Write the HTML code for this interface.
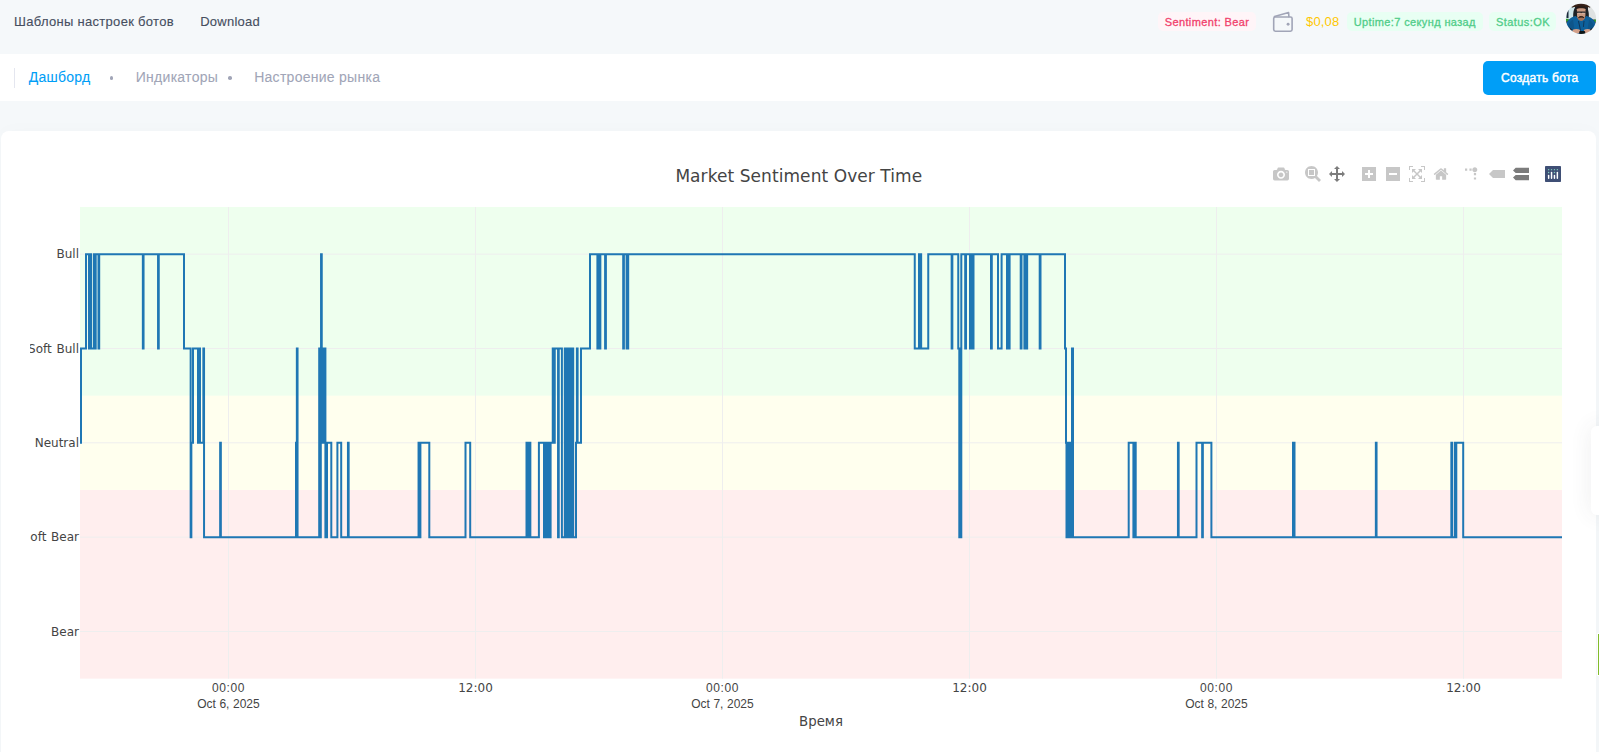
<!DOCTYPE html><html lang="ru"><head><meta charset="utf-8"><title>Market Sentiment</title><style>
html,body{margin:0;padding:0}
body{width:1599px;height:752px;overflow:hidden;position:relative;background:#f5f8fa;
 font-family:"Liberation Sans", sans-serif;-webkit-font-smoothing:antialiased}
.abs{position:absolute;white-space:nowrap;line-height:1}
#nav{position:absolute;left:0;top:54px;width:1599px;height:47px;background:#fff}
#card{position:absolute;left:1px;top:131px;width:1595px;height:640px;background:#fff;border-radius:8px;
 box-shadow:0 0 20px 0 rgba(76,87,125,.02)}
.badge{position:absolute;top:12px;height:19px;border-radius:5px}
.top{font-size:13px;color:#464e5f;top:15px;-webkit-text-stroke:0.12px #464e5f}
.nv{font-size:14px;top:70px;-webkit-text-stroke:0.08px currentColor}
.dot{position:absolute;width:3.6px;height:3.6px;border-radius:50%;background:#a1a5b7;top:76px}
#btn{position:absolute;left:1483px;top:61px;width:113px;height:34px;border-radius:5px;background:#009ef7}
#tab{position:absolute;left:1591px;top:426px;width:20px;height:89px;background:#fff;border-radius:6px 0 0 6px;
 box-shadow:0 0 22px 0 rgba(70,70,80,.09)}
#grn{position:absolute;left:1597px;top:633px;width:4px;height:43px;background:#82bc2b;border:1px solid #fff;box-sizing:border-box}
</style></head><body>
<span class="abs top" id="t1" style="left:14px;letter-spacing:0.3px">Шаблоны настроек ботов</span>
<span class="abs top" id="t2" style="left:200.2px;letter-spacing:0.25px">Download</span>
<div class="badge" style="left:1158px;width:98px;background:#fff5f8"></div>
<span class="abs" id="b1" style="left:1164.7px;top:16.7px;-webkit-text-stroke:0.3px #f1416c;font-size:11px;letter-spacing:0.38px;color:#f1416c;font-weight:500">Sentiment: Bear</span>
<svg style="position:absolute;left:1268px;top:8px" width="30" height="28" viewBox="1268 8 30 28"><g fill="none" stroke="#a1a5b7" stroke-width="1.6" stroke-linejoin="round" stroke-linecap="round"><rect x="1273.7" y="17" width="18.4" height="14.2" rx="1.6"/><path d="M1274.5,16.6 L1288.6,12.6 L1288.9,16.6"/></g><circle cx="1288.1" cy="24.2" r="1.45" fill="#a1a5b7"/></svg>
<span class="abs" id="b2" style="left:1306px;top:15.4px;font-size:13px;letter-spacing:0.18px;color:#ffc700">$0,08</span>
<div class="badge" style="left:1347px;width:136px;background:#e8fff3"></div>
<span class="abs" id="b3" style="left:1353.8px;top:16.7px;-webkit-text-stroke:0.3px #50cd89;font-size:11px;letter-spacing:0.37px;color:#50cd89;font-weight:500">Uptime:7 секунд назад</span>
<div class="badge" style="left:1489px;width:67px;background:#e8fff3"></div>
<span class="abs" id="b4" style="left:1496px;top:16.7px;-webkit-text-stroke:0.3px #50cd89;font-size:11px;letter-spacing:0.43px;color:#50cd89;font-weight:500">Status:OK</span>
<svg style="position:absolute;left:1564px;top:2px" width="34" height="34" viewBox="1564 2 34 34"><defs><clipPath id="av"><circle cx="1581" cy="18.8" r="15.1"/></clipPath><filter id="avb" x="-10%" y="-10%" width="120%" height="120%"><feGaussianBlur stdDeviation="0.45"/></filter></defs><g clip-path="url(#av)"><g filter="url(#avb)"><rect x="1564" y="2" width="34" height="34" fill="#3a2a22"/><path d="M1564,8 L1575,6.5 L1575,19 L1564,20 Z" fill="#cfe6ea"/><path d="M1588,6.5 L1598,8 L1598,20 L1588,19 Z" fill="#dfe2e2"/><rect x="1564" y="18.8" width="4.6" height="2.6" fill="#2e9a2c"/><rect x="1594" y="19.6" width="4" height="2.2" fill="#2e9a2c"/><rect x="1566.5" y="10" width="2" height="8" fill="#1c2a3a"/><path d="M1573.2,17 C1572.8,9 1575.5,5 1581,4.6 C1586.5,5 1589.2,9 1588.8,17 Z" fill="#1e2228"/><path d="M1571.5,8 C1574,3 1588,3 1590.5,8 C1587,5.6 1575,5.6 1571.5,8 Z" fill="#3a2418"/><path d="M1576.4,11 C1576,6.5 1578.6,5.4 1581.2,5.4 C1583.8,5.4 1586.2,6.5 1585.9,11 Z" fill="#2c1a12"/><path d="M1564,33 C1565,22 1569,17.6 1575.5,16 L1581,19.5 L1586.5,16 C1593,17.6 1597,22 1598,33 L1598,36 L1564,36 Z" fill="#11609b"/><path d="M1567,30 C1568,24 1570,21 1573,19.5 L1574.5,30 Z" fill="#0d548a"/><path d="M1595,30 C1594,24 1592,21 1589,19.5 L1587.5,30 Z" fill="#0d548a"/><path d="M1576.9,9.2 C1577,7.8 1585.3,7.8 1585.5,9.2 L1585.4,15.5 C1585,19 1583,20.6 1581.2,20.6 C1579.4,20.6 1577.3,19 1577,15.5 Z" fill="#c99a82"/><path d="M1577.2,16 C1578.5,18 1583.9,18 1585.2,16 C1585,19.4 1583,20.8 1581.2,20.8 C1579.4,20.8 1577.4,19.4 1577.2,16 Z" fill="#a07058"/><rect x="1576.8" y="11.5" width="8.8" height="1.5" rx=".6" fill="#2b2626"/><rect x="1577.6" y="12.6" width="3" height="1.4" fill="#d8c6bc" opacity=".55"/><rect x="1581.8" y="12.6" width="3" height="1.4" fill="#d8c6bc" opacity=".55"/><path d="M1578.5,17.6 C1579.6,16 1582.8,16 1584,17.6 C1582.6,17.1 1580,17.1 1578.5,17.6 Z" fill="#241610" stroke="#241610" stroke-width=".7"/><path d="M1578.5,21 L1580.6,31" stroke="#0b2f4f" stroke-width=".9" fill="none"/><path d="M1584,21 L1583.4,27" stroke="#0b2f4f" stroke-width=".8" fill="none"/><ellipse cx="1576.3" cy="31.3" rx="4" ry="2.4" fill="#d3a08a"/><ellipse cx="1587.6" cy="31.3" rx="3.8" ry="2.4" fill="#d3a08a"/><rect x="1579.2" y="31" width="6" height="3.4" rx="1" fill="#101216"/><path d="M1569.5,27.5 L1572.5,30 L1570,31.5 Z" fill="#1b1f26"/><path d="M1592.5,27.5 L1589.8,30 L1592,31.5 Z" fill="#1b1f26"/></g></g></svg>
<div id="nav"></div>
<div style="position:absolute;left:14px;top:68px;width:1px;height:20px;background:#e4e6ef"></div>
<span class="abs nv" id="n1" style="left:28.7px;letter-spacing:0.26px;color:#009ef7">Дашборд</span>
<div class="dot" style="left:109.5px"></div>
<span class="abs nv" id="n2" style="left:135.7px;letter-spacing:0.29px;color:#a1a5b7">Индикаторы</span>
<div class="dot" style="left:228px"></div>
<span class="abs nv" id="n3" style="left:254.2px;letter-spacing:0.27px;color:#a1a5b7">Настроение рынка</span>
<div id="btn"></div>
<span class="abs" id="bt" style="left:1501px;top:72px;font-size:12px;letter-spacing:0.27px;color:#fff;font-weight:400;-webkit-text-stroke:0.45px #fff">Создать бота</span>
<div id="card"></div>
<svg id="chart" width="1599" height="752" viewBox="0 0 1599 752" style="position:absolute;left:0;top:0">
<defs><clipPath id="plotclip"><rect x="80" y="207" width="1482" height="471.65"/></clipPath><clipPath id="svgclip"><rect x="30" y="131" width="1537" height="621"/></clipPath></defs>
<rect x="80" y="207" width="1482" height="188.66" fill="rgb(0,255,0)" fill-opacity="0.066"/>
<rect x="80" y="395.66" width="1482" height="94.33" fill="rgb(255,255,0)" fill-opacity="0.066"/>
<rect x="80" y="489.99" width="1482" height="188.66" fill="rgb(255,0,0)" fill-opacity="0.066"/>
<path d="M228.5,207V678.65M475.5,207V678.65M722.5,207V678.65M969.5,207V678.65M1216.5,207V678.65M1463.5,207V678.65M80,631.48H1562M80,537.15H1562M80,442.82H1562M80,348.50H1562M80,254.16H1562" stroke="#eeeeee" stroke-width="1" fill="none"/>
<g clip-path="url(#plotclip)"><path d="M80.00,442.82H81.00V348.50H86.00V254.16H89.00V348.50H90.00V254.16H91.00V348.50H93.80V254.16H94.80V348.50H95.70V254.16H98.50V348.50H99.20V254.16H142.85V348.50H143.55V254.16H158.05V348.50H158.75V254.16H184.00V348.50H190.65V537.15H191.35V442.82H193.00V348.50H198.00V442.82H199.00V348.50H200.00V442.82H203.35V348.50H204.05V537.15H220.15V442.82H220.85V537.15H296.00V442.82H296.85V348.50H297.55V537.15H319.20V348.50H320.00V537.15H320.80V348.50H321.05V254.16H321.75V348.50H322.40V442.82H323.20V348.50H324.00V442.82H324.60V348.50H325.40V537.15H327.00V442.82H331.30V537.15H337.40V442.82H341.20V537.15H347.95V442.82H348.65V537.15H418.55V442.82H419.25V537.15H420.40V442.82H429.30V537.15H465.50V442.82H470.20V537.15H526.50V442.82H527.20V537.15H528.00V442.82H528.80V537.15H529.65V442.82H530.35V537.15H538.90V442.82H544.00V537.15H545.00V442.82H546.00V537.15H547.00V442.82H548.00V537.15H549.00V442.82H550.00V537.15H550.60V442.82H552.75V348.50H553.50V442.82H554.75V348.50H558.05V537.15H558.75V348.50H561.90V537.15H564.80V348.50H565.60V537.15H566.40V348.50H568.20V537.15H568.90V348.50H570.40V537.15H571.20V348.50H572.00V537.15H572.80V348.50H573.20V537.15H576.00V442.82H576.90V348.50H577.60V442.82H581.00V348.50H590.00V254.16H597.40V348.50H598.10V254.16H599.65V348.50H600.35V254.16H605.10V348.50H605.90V254.16H623.20V348.50H623.90V254.16H626.60V348.50H628.20V254.16H914.75V348.50H919.00V254.16H919.90V348.50H920.45V254.16H921.15V348.50H928.25V254.16H951.65V348.50H952.35V254.16H958.25V348.50H959.30V537.15H961.30V254.16H965.20V348.50H966.00V254.16H970.00V348.50H971.20V254.16H972.40V348.50H973.50V254.16H991.00V348.50H991.80V254.16H998.00V348.50H1001.60V254.16H1007.00V348.50H1007.90V254.16H1008.70V348.50H1009.60V254.16H1020.70V348.50H1021.50V254.16H1024.40V348.50H1025.10V254.16H1026.45V348.50H1027.15V254.16H1039.70V348.50H1040.50V254.16H1065.00V348.50H1066.00V442.82H1066.50V537.15H1068.40V442.82H1070.20V537.15H1072.00V348.50H1073.00V537.15H1128.70V442.82H1133.40V537.15H1134.20V442.82H1135.70V537.15H1177.95V442.82H1178.65V537.15H1196.50V442.82H1202.15V537.15H1202.85V442.82H1211.40V537.15H1293.00V442.82H1294.50V537.15H1375.85V442.82H1376.55V537.15H1451.35V442.82H1452.05V537.15H1454.80V442.82H1455.60V537.15H1456.30V442.82H1463.20V537.15H1562.00" fill="none" stroke="#1f77b4" stroke-width="2" stroke-linejoin="miter"/></g>
<g clip-path="url(#svgclip)" font-family="'DejaVu Sans', sans-serif" font-size="12" fill="#444444" word-spacing="0.9">
<text class="yt" x="79" y="635.68" text-anchor="end">Bear</text>
<text class="yt" x="79" y="541.36" text-anchor="end">Soft Bear</text>
<text class="yt" x="79" y="447.02" text-anchor="end">Neutral</text>
<text class="yt" x="79" y="352.69" text-anchor="end">Soft Bull</text>
<text class="yt" x="79" y="258.37" text-anchor="end">Bull</text>
</g>
<g font-size="12" fill="#444444">
<text class="xt0" x="228.5" y="691.6" text-anchor="middle" letter-spacing="0.55" font-family="'Liberation Sans', sans-serif">00:00</text>
<text class="xt1" x="228.5" y="708" text-anchor="middle" letter-spacing="0.06" font-family="'Liberation Sans', sans-serif">Oct 6, 2025</text>
<text class="xt2" x="475.5" y="691.8" text-anchor="middle" font-family="'DejaVu Sans', sans-serif">12:00</text>
<text class="xt0" x="722.5" y="691.6" text-anchor="middle" letter-spacing="0.55" font-family="'Liberation Sans', sans-serif">00:00</text>
<text class="xt1" x="722.5" y="708" text-anchor="middle" letter-spacing="0.06" font-family="'Liberation Sans', sans-serif">Oct 7, 2025</text>
<text class="xt2" x="969.5" y="691.8" text-anchor="middle" font-family="'DejaVu Sans', sans-serif">12:00</text>
<text class="xt0" x="1216.5" y="691.6" text-anchor="middle" letter-spacing="0.55" font-family="'Liberation Sans', sans-serif">00:00</text>
<text class="xt1" x="1216.5" y="708" text-anchor="middle" letter-spacing="0.06" font-family="'Liberation Sans', sans-serif">Oct 8, 2025</text>
<text class="xt2" x="1463.5" y="691.8" text-anchor="middle" font-family="'DejaVu Sans', sans-serif">12:00</text>
</g>
<text id="xtitle" x="821" y="726" text-anchor="middle" font-family="'DejaVu Sans', sans-serif" font-size="13.3" fill="#444444">Время</text>
<text id="ctitle" x="798.8" y="181.8" letter-spacing="0.07" text-anchor="middle" font-family="'DejaVu Sans', sans-serif" font-size="17" fill="#444444">Market Sentiment Over Time</text>
<svg x="1273" y="166" width="16" height="16" viewBox="0 0 1000 1000"><path fill="rgba(68,68,68,0.3)" transform="matrix(1 0 0 -1 0 850)" d="m500 450c-83 0-150-67-150-150 0-83 67-150 150-150 83 0 150 67 150 150 0 83-67 150-150 150z m400 150h-120c-16 0-34 13-39 29l-31 93c-6 15-23 28-40 28h-340c-16 0-34-13-39-28l-31-94c-6-15-23-28-40-28h-120c-55 0-100-45-100-100v-450c0-55 45-100 100-100h800c55 0 100 45 100 100v450c0 55-45 100-100 100z m-400-550c-138 0-250 112-250 250 0 138 112 250 250 250 138 0 250-112 250-250 0-138-112-250-250-250z m365 380c-19 0-35 16-35 35 0 19 16 35 35 35 19 0 35-16 35-35 0-19-16-35-35-35z"/></svg>
<svg x="1305" y="166" width="16" height="16" viewBox="0 0 1000 1000"><path fill="rgba(68,68,68,0.3)" transform="matrix(1 0 0 -1 0 850)" d="m1000-25l-250 251c40 63 63 138 63 218 0 224-182 406-407 406-224 0-406-182-406-406s183-406 407-406c80 0 155 22 218 62l250-250 125 125z m-812 250l0 438 437 0 0-438-437 0z m62 375l313 0 0-312-313 0 0 312z"/></svg>
<svg x="1329" y="166" width="16" height="16" viewBox="0 0 1000 1000"><path fill="rgba(68,68,68,0.7)" transform="matrix(1 0 0 -1 0 850)" d="m1000 350l-187 188 0-125-250 0 0 250 125 0-188 187-187-187 125 0 0-250-250 0 0 125-188-188 186-187 0 125 252 0 0-250-125 0 187-188 188 188-125 0 0 250 250 0 0-126 187 188z"/></svg>
<svg x="1361" y="166" width="16" height="16" viewBox="0 0 875 1000"><path fill="rgba(68,68,68,0.3)" transform="matrix(1 0 0 -1 0 850)" d="m1 787l0-875 875 0 0 875-875 0z m687-500l-187 0 0-187-125 0 0 187-188 0 0 125 188 0 0 187 125 0 0-187 187 0 0-125z"/></svg>
<svg x="1385" y="166" width="16" height="16" viewBox="0 0 875 1000"><path fill="rgba(68,68,68,0.3)" transform="matrix(1 0 0 -1 0 850)" d="m0 788l0-876 875 0 0 876-875 0z m688-500l-500 0 0 125 500 0 0-125z"/></svg>
<svg x="1409" y="166" width="16" height="16" viewBox="0 0 1000 1000"><path fill="rgba(68,68,68,0.3)" transform="matrix(1 0 0 -1 0 850)" d="m250 850l-187 0-63 0 0-62 0-188 63 0 0 188 187 0 0 62z m688 0l-188 0 0-62 188 0 0-188 62 0 0 188 0 62-62 0z m-875-938l0 188-63 0 0-188 0-62 63 0 187 0 0 62-187 0z m875 188l0-188-188 0 0-62 188 0 62 0 0 62 0 188-62 0z m-125 188l-1 0-93-94-156 156 156 156 92-93 2 0 0 250-250 0 0-2 93-92-156-156-156 156 94 92 0 2-250 0 0-250 0 0 93 93 157-156-157-156-93 94 0 0 0-250 250 0 0 0-94 93 156 157 156-157-93-93 0 0 250 0 0 250z"/></svg>
<svg x="1433" y="166" width="16" height="16" viewBox="0 0 928.6 1000"><path fill="rgba(68,68,68,0.3)" transform="matrix(1 0 0 -1 0 850)" d="m786 296v-267q0-15-11-26t-25-10h-214v214h-143v-214h-214q-15 0-25 10t-11 26v267q0 1 0 2t0 2l321 264 321-264q1-1 1-4z m124 39l-34-41q-5-5-12-6h-2q-7 0-12 3l-386 322-386-322q-7-4-13-4-7 2-12 7l-35 41q-4 5-3 13t6 12l401 334q18 15 42 15t43-15l136-114v109q0 8 5 13t13 5h107q8 0 13-5t5-13v-227l122-102q5-5 6-12t-4-13z"/></svg>
<svg x="1465" y="166" width="16" height="16" viewBox="0 0 1000 1000"><path fill="rgba(68,68,68,0.3)" transform="matrix(1.5 0 0 -1.5 0 850)" d="M512 409c0-57-46-104-103-104-57 0-104 47-104 104 0 57 47 103 104 103 57 0 103-46 103-103z m-327-39l92 0 0 92-92 0z m-185 0l92 0 0 92-92 0z m370-186l92 0 0 93-92 0z m0-184l92 0 0 92-92 0z"/></svg>
<svg x="1489" y="166" width="16" height="16" viewBox="0 0 1500 1000"><path fill="rgba(68,68,68,0.3)" transform="matrix(1 0 0 -1 0 850)" d="m375 725l0 0-375-375 375-374 0-1 1125 0 0 750-1125 0z"/></svg>
<svg x="1513" y="166" width="16" height="16" viewBox="0 0 1125 1000"><path fill="rgba(68,68,68,0.7)" transform="matrix(1 0 0 -1 0 850)" d="m187 786l0 2-187-188 188-187 0 0 937 0 0 373-938 0z m0-499l0 1-187-188 188-188 0 0 937 0 0 376-938-1z"/></svg>
<svg x="1545" y="166" width="16" height="16" viewBox="0 0 132 132"><rect fill="#3f4f75" width="132" height="132" rx="6" ry="6"/><circle fill="#80cfbe" cx="78" cy="54" r="6"/><circle fill="#80cfbe" cx="102" cy="30" r="6"/><circle fill="#80cfbe" cx="78" cy="30" r="6"/><circle fill="#80cfbe" cx="54" cy="30" r="6"/><circle fill="#80cfbe" cx="30" cy="30" r="6"/><circle fill="#80cfbe" cx="30" cy="54" r="6"/><path fill="#fff" d="M30,72a6,6,0,0,0-6,6v24a6,6,0,0,0,12,0V78A6,6,0,0,0,30,72Z"/><path fill="#fff" d="M78,72a6,6,0,0,0-6,6v24a6,6,0,0,0,12,0V78A6,6,0,0,0,78,72Z"/><path fill="#fff" d="M54,48a6,6,0,0,0-6,6v48a6,6,0,0,0,12,0V54A6,6,0,0,0,54,48Z"/><path fill="#fff" d="M102,48a6,6,0,0,0-6,6v48a6,6,0,0,0,12,0V54A6,6,0,0,0,102,48Z"/></svg>
</svg>
<div id="tab"></div><div id="grn"></div>
</body></html>
